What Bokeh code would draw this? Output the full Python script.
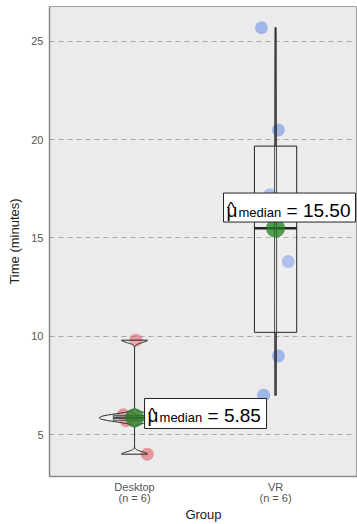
import numpy as np
from bokeh.plotting import figure
from bokeh.models import Range1d, FixedTicker
from bokeh.embed import file_html
from bokeh.resources import INLINE
from bokeh.core.properties import value

# ---- data ----
groups = ["Desktop", "VR"]
group_pos = [1, 2]
group_ticklabels = ["Desktop\n(n = 6)", "VR\n(n = 6)"]
desktop_times = [9.8, 6.0, 5.9, 5.8, 5.7, 4.0]
vr_times = [25.7, 20.5, 17.2, 13.8, 9.0, 7.0]
desktop_jitter = [0.01, -0.08, -0.02, 0.0, -0.06, 0.09]
vr_jitter = [-0.10, 0.02, -0.04, 0.09, 0.02, -0.085]
y_ticks = [5, 10, 15, 20, 25]

FONT = value("Liberation Sans")
X0, X1 = 0.397, 2.581
Y0, Y1 = 2.863, 26.78

p = figure(width=357, height=524, x_range=Range1d(X0, X1),
           y_range=Range1d(Y0, Y1), output_backend="svg",
           toolbar_location=None, min_border_left=49, min_border_right=0,
           min_border_top=6, min_border_bottom=48)
p.background_fill_color = "#ebebeb"
p.border_fill_color = "white"
p.outline_line_color = "#a0a0a0"
p.outline_line_width = 1

p.xgrid.visible = False
p.ygrid.ticker = FixedTicker(ticks=y_ticks)
p.ygrid.grid_line_color = "#a9a9a9"
p.ygrid.grid_line_dash = "5 4"
p.ygrid.grid_line_width = 1

p.yaxis.ticker = FixedTicker(ticks=y_ticks)
p.xaxis.ticker = FixedTicker(ticks=group_pos)
p.xaxis.major_label_overrides = {g: t for g, t in zip(group_pos, group_ticklabels)}
for ax in (p.xaxis, p.yaxis):
    ax.axis_line_color = "#8a8a8a"
    ax.axis_line_width = 1.5
    ax.major_tick_line_color = None
    ax.minor_tick_line_color = None
    ax.major_tick_out = 0
    ax.major_tick_in = 0
    ax.major_label_text_color = "#555555"
    ax.major_label_text_font = "Liberation Sans"
    ax.major_label_text_font_size = "11px"
    ax.axis_label_text_font = "Liberation Sans"
    ax.axis_label_text_font_style = "normal"
    ax.axis_label_text_color = "#222222"
    ax.axis_label_text_font_size = "13px"
p.xaxis.major_label_text_line_height = 0.95
p.yaxis.major_label_standoff = 6
p.xaxis.major_label_standoff = 4
p.yaxis.axis_label = "Time (minutes)"
p.xaxis.axis_label = "Group"
p.yaxis.axis_label_standoff = 6
p.xaxis.axis_label_standoff = 0

colors = ["#e0606a", "#6f93e6"]
datasets = [desktop_times, vr_times]
jitters = [desktop_jitter, vr_jitter]

# points
for gx, vals, jit, c in zip(group_pos, datasets, jitters, colors):
    p.scatter([gx + j for j in jit], vals, size=13, fill_color=c,
              fill_alpha=0.6, line_color=None)


def bw_nrd0(x):
    x = np.asarray(x, float)
    hi = np.std(x, ddof=1)
    q75, q25 = np.percentile(x, [75, 25])
    lo = min(hi, (q75 - q25) / 1.34)
    return 0.9 * lo * len(x) ** (-0.2)


# boxplots
for gx, vals in zip(group_pos, datasets):
    v = np.asarray(vals, float)
    q1, med, q3 = np.percentile(v, [25, 50, 75])
    iqr = q3 - q1
    upper = v[v <= q3 + 1.5 * iqr].max()
    lower = v[v >= q1 - 1.5 * iqr].min()
    p.quad(left=[gx - 0.15], right=[gx + 0.15], bottom=[q1], top=[q3],
           fill_color="white", fill_alpha=0.15, line_color="#222222", line_width=1)
    p.segment(x0=[gx, gx], y0=[q3, q1], x1=[gx, gx], y1=[upper, lower],
              line_color="#222222", line_width=1)
    p.segment(x0=[gx - 0.15], y0=[med], x1=[gx + 0.15], y1=[med],
              line_color="#222222", line_width=2.5)

# violins (trimmed gaussian KDE, area scaling, width 0.5)
kdes = []
for vals in datasets:
    v = np.asarray(vals, float)
    bw = bw_nrd0(v)
    grid = np.linspace(v.min(), v.max(), 512)
    dens = np.exp(-0.5 * ((grid[:, None] - v[None, :]) / bw) ** 2).sum(axis=1) / (len(v) * bw * np.sqrt(2 * np.pi))
    kdes.append((grid, dens))
dmax = max(d.max() for _, d in kdes)
for gx, (grid, dens) in zip(group_pos, kdes):
    half = dens / dmax * 0.25
    xs = np.concatenate([gx - half, (gx + half)[::-1]])
    ys = np.concatenate([grid, grid[::-1]])
    p.patch(xs, ys, fill_color="white", fill_alpha=0.2, line_color="#222222", line_width=1)

# median points
medians = [float(np.median(v)) for v in datasets]
p.scatter(group_pos, medians, size=19, fill_color="#1f7f1f", fill_alpha=0.75, line_color=None)

# median labels
frame_w = 308.0
px_per_x = frame_w / (X1 - X0)
label_shift = [(0.071, 0.22, 122, 30), (-0.369, 1.05, 132, 29)]
for gx, m, (dx, dy, wpx, hpx) in zip(group_pos, medians, label_shift):
    lx = gx + dx
    ly = m + dy
    cx = lx + (wpx / 2.0) / px_per_x
    p.rect(x=[cx], y=[ly], width=wpx, height=hpx, width_units="screen",
           height_units="screen", fill_color="white", line_color="#222222", line_width=1)
    p.text(x=[lx], y=[ly], text=["\u03bc"], x_offset=3, y_offset=2.5,
           text_font=FONT, text_font_size="19px", text_baseline="alphabetic",
           text_color="black")
    p.text(x=[lx], y=[ly], text=["^"], x_offset=3.5, y_offset=1,
           text_font=FONT, text_font_size="17px", text_baseline="alphabetic",
           text_color="black")
    p.text(x=[lx], y=[ly], text=["median"], x_offset=15, y_offset=4.5,
           text_font=FONT, text_font_size="13px", text_baseline="alphabetic",
           text_color="black")
    p.text(x=[lx], y=[ly], text=[f"= {m:.2f}"], x_offset=63, y_offset=2.5,
           text_font=FONT, text_font_size="19px", text_baseline="alphabetic",
           text_color="black")

open("out.html", "w").write(file_html(p, INLINE))
